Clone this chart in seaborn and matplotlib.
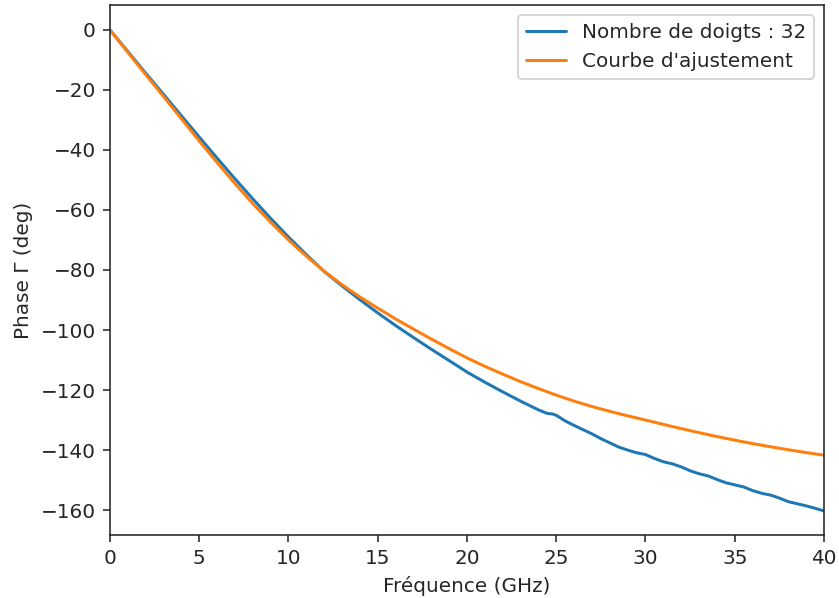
import numpy as np
import pandas as pd
import matplotlib
matplotlib.use("Agg")
import matplotlib.pyplot as plt
import seaborn as sns

# Measured phase (Nombre de doigts : 32)
freq_meas = [0, 1, 2, 3, 4, 5, 6, 7, 8, 9, 10, 11, 12, 13, 14, 15, 16, 17, 18, 19, 20,
             21, 22, 23, 24, 24.5, 24.8, 25, 25.5, 26, 26.5, 27, 27.5, 28, 28.5, 29, 29.5,
             30, 30.5, 31, 31.5, 32, 32.5, 33, 33.5, 34, 34.5, 35, 35.5, 36, 36.5, 37,
             37.5, 38, 38.5, 39, 39.5, 40]
phase_meas = [0, -7.2, -14.4, -21.5, -28.6, -35.7, -42.7, -49.6, -56.3, -62.8, -69.0,
              -74.9, -80.5, -85.3, -89.9, -94.3, -98.5, -102.5, -106.4, -110.2, -114.0,
              -117.4, -120.6, -123.7, -126.6, -127.8, -128.0, -128.4, -130.3, -131.8,
              -133.2, -134.6, -136.2, -137.6, -139.0, -140.0, -140.9, -141.5, -142.8,
              -143.9, -144.6, -145.6, -146.9, -147.9, -148.6, -149.8, -150.9, -151.6,
              -152.3, -153.5, -154.4, -155.0, -156.0, -157.2, -157.9, -158.6, -159.4,
              -160.3]

# Fitted curve (Courbe d'ajustement)
freq_fit = list(range(0, 41))
phase_fit = [0, -7.5, -14.9, -22.2, -29.6, -37.0, -44.2, -51.2, -57.9, -64.1, -70.0,
             -75.4, -80.4, -84.9, -89.0, -92.7, -96.3, -99.7, -103.0, -106.2, -109.3,
             -112.1, -114.7, -117.2, -119.5, -121.7, -123.7, -125.5, -127.1, -128.6,
             -130.0, -131.45, -132.85, -134.2, -135.5, -136.7, -137.85, -138.9, -139.9,
             -140.85, -141.7]

label_meas = "Nombre de doigts : 32"
label_fit = "Courbe d'ajustement"

xticks = [0, 5, 10, 15, 20, 25, 30, 35, 40]
yticks = [0, -20, -40, -60, -80, -100, -120, -140, -160]

sns.set_theme(style="ticks", rc={
    "xtick.major.size": 3.5, "ytick.major.size": 3.5,
    "xtick.major.width": 0.8, "ytick.major.width": 0.8,
    "axes.linewidth": 0.8,
})
plt.rcParams['font.family'] = ['DejaVu Sans']

DPI = 144
fig = plt.figure(figsize=(839 / DPI, 598 / DPI), dpi=DPI)
ax = fig.add_axes([0.1311, 0.1054, 0.8510, 0.8862])

sns.lineplot(x=freq_meas, y=phase_meas, ax=ax, color="#1f77b4", linewidth=1.5,
             label=label_meas)
sns.lineplot(x=freq_fit, y=phase_fit, ax=ax, color="#ff7f0e", linewidth=1.5,
             label=label_fit)

ax.set_xlim(0, 40)
ax.set_ylim(-168.3, 8.3)
ax.set_xticks(xticks)
ax.set_yticks(yticks)
ax.tick_params(labelsize=10)
ax.set_xlabel("Fréquence (GHz)", fontsize=10)
ax.set_ylabel("Phase Γ (deg)", fontsize=10)
for s in ax.spines.values():
    s.set_visible(True)
    s.set_color("#262626")
ax.legend(loc="upper right", fontsize=10)

fig.savefig("out.png", dpi=DPI)
